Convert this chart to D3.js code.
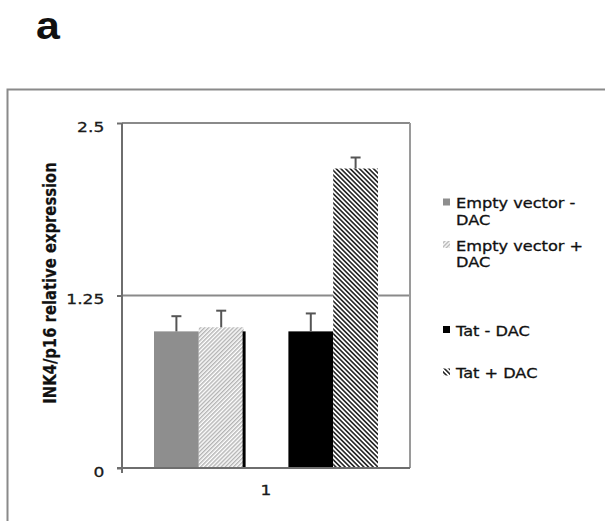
<!DOCTYPE html>
<html>
<head>
<meta charset="utf-8">
<script src="https://cdn.jsdelivr.net/npm/d3@7"></script>
<style>
  body { margin: 0; background: #fff; }
  svg { display: block; font-family: "DejaVu Sans", Verdana, sans-serif; }
</style>
</head>
<body>
<div id="chart"></div>
<script>
// data
const categories = ['1'];
const series = ['Empty vector - DAC', 'Empty vector + DAC', '', 'Tat - DAC', 'Tat + DAC'];
const legendLines = [['Empty vector -', 'DAC'], ['Empty vector +', 'DAC'], [], ['Tat - DAC'], ['Tat + DAC']];
const values = [0.99, 1.02, null, 0.99, 2.17];
const errors = [0.11, 0.12, null, 0.13, 0.08];
const tickValues = [0, 1.25, 2.5];
const tickLabels = ['0', '1.25', '2.5'];

const svgWidth = 605, svgHeight = 521;
const margin = {top: 123, left: 122, right: 195, bottom: 53};
const chartWidth = svgWidth - margin.left - margin.right;   // 288
const chartHeight = svgHeight - margin.top - margin.bottom; // 345
const stretch = 1.18; // the source picture is wider than tall

const svg = d3.select('#chart').append('svg')
  .attr('width', svgWidth)
  .attr('height', svgHeight);

// hatch fills
const defs = svg.append('defs');
function hatch(id, size, angle, color) {
  const p = defs.append('pattern')
    .attr('id', id)
    .attr('patternUnits', 'userSpaceOnUse')
    .attr('width', size).attr('height', size)
    .attr('patternTransform', `rotate(${angle})`);
  p.append('rect').attr('width', size).attr('height', size).attr('fill', '#fff');
  p.append('rect').attr('width', size / 2).attr('height', size).attr('fill', color);
}
hatch('lightHatch', 2.9, 45, '#b4b4b4');
hatch('darkHatch', 3.3, -45, '#2a2a2a');

const fills = ['#8e8e8e', 'url(#lightHatch)', 'none', '#000', 'url(#darkHatch)'];

// outer frame and panel letter
svg.append('rect')
  .attr('x', 7.5).attr('y', 89.5)
  .attr('width', 700).attr('height', 500)
  .attr('fill', 'none').attr('stroke', '#8a8a8a').attr('stroke-width', 2);

svg.append('text')
  .attr('transform', 'translate(36,39) scale(1.1,1)')
  .style('font-family', '"Liberation Sans", Arial, sans-serif')
  .style('font-weight', 'bold')
  .style('font-size', '39px')
  .attr('fill', '#111')
  .text('a');

const chartGroup = svg.append('g')
  .attr('transform', `translate(${margin.left}, ${margin.top})`);

// scales
const yScale = d3.scaleLinear().domain([0, 2.5]).range([chartHeight, 0]);
const x0 = d3.scaleBand().domain(categories).range([0, chartWidth]).paddingInner(0.125).paddingOuter(0.125);
const x1 = d3.scaleBand().domain(series.map((s, i) => i)).range([0, x0.bandwidth()]);

// grid lines and plot border
chartGroup.selectAll('.grid')
  .data(tickValues.filter(v => v > 0))
  .enter().append('line')
  .attr('x1', 0).attr('x2', chartWidth)
  .attr('y1', d => yScale(d)).attr('y2', d => yScale(d))
  .attr('stroke', '#8a8a8a').attr('stroke-width', 2);

chartGroup.append('line')
  .attr('x1', chartWidth).attr('x2', chartWidth)
  .attr('y1', 0).attr('y2', chartHeight)
  .attr('stroke', '#9a9a9a').attr('stroke-width', 2);

// bars
const barGroup = chartGroup.append('g')
  .attr('transform', `translate(${x0(categories[0])},0)`);

const barData = series.map((s, i) => ({i, v: values[i], e: errors[i]})).filter(d => d.v !== null);

barGroup.selectAll('rect.bar')
  .data(barData)
  .enter().append('rect')
  .attr('class', 'bar')
  .attr('x', d => x1(d.i))
  .attr('y', d => yScale(d.v))
  .attr('width', x1.bandwidth())
  .attr('height', d => chartHeight - yScale(d.v))
  .attr('fill', d => fills[d.i]);

// dark edge on the right of the light hatched bar
barGroup.append('rect')
  .attr('x', x1(1) + x1.bandwidth() - 1)
  .attr('y', yScale(values[3]))
  .attr('width', 3)
  .attr('height', chartHeight - yScale(values[3]))
  .attr('fill', '#000');

// error bars (upper only)
const errG = barGroup.selectAll('g.err')
  .data(barData)
  .enter().append('g')
  .attr('stroke', '#555').attr('stroke-width', 2);
errG.append('line')
  .attr('x1', d => x1(d.i) + x1.bandwidth() / 2)
  .attr('x2', d => x1(d.i) + x1.bandwidth() / 2)
  .attr('y1', d => yScale(d.v))
  .attr('y2', d => yScale(d.v + d.e));
errG.append('line')
  .attr('x1', d => x1(d.i) + x1.bandwidth() / 2 - 5)
  .attr('x2', d => x1(d.i) + x1.bandwidth() / 2 + 5)
  .attr('y1', d => yScale(d.v + d.e))
  .attr('y2', d => yScale(d.v + d.e));

// axes
const leftAxis = d3.axisLeft(yScale)
  .tickValues(tickValues)
  .tickFormat((d, i) => tickLabels[i])
  .tickSize(5)
  .tickPadding(10);

const yAxisG = chartGroup.append('g').call(leftAxis);
yAxisG.select('.domain').attr('stroke', '#6e6e6e').attr('stroke-width', 2).attr('d', `M0,0V${chartHeight + 5}`);
yAxisG.selectAll('.tick line').attr('stroke', '#6e6e6e').attr('stroke-width', 2);
yAxisG.selectAll('.tick text')
  .attr('transform', `scale(${stretch},1)`)
  .attr('dy', '0.57em')
  .attr('fill', '#1a1a1a')
  .attr('stroke', '#1a1a1a').attr('stroke-width', 0.3)
  .style('font-size', '14.5px')
  .style('font-family', '"DejaVu Sans", Verdana, sans-serif');

const bottomAxis = d3.axisBottom(x0).tickSize(0).tickPadding(0);
const xAxisG = chartGroup.append('g')
  .attr('transform', `translate(0, ${chartHeight})`)
  .call(bottomAxis);
xAxisG.select('.domain').attr('stroke', '#6e6e6e').attr('stroke-width', 2).attr('d', `M-5,0H${chartWidth}`);
xAxisG.selectAll('.tick text')
  .attr('transform', `translate(0,27) scale(${stretch},1)`)
  .attr('dy', 0)
  .attr('fill', '#1a1a1a')
  .attr('stroke', '#1a1a1a').attr('stroke-width', 0.3)
  .style('font-size', '14.5px')
  .style('font-family', '"DejaVu Sans", Verdana, sans-serif');

// y axis title
svg.append('text')
  .attr('transform', `translate(50, 283) scale(${stretch},1) rotate(-90)`)
  .attr('text-anchor', 'middle')
  .attr('dominant-baseline', 'central')
  .style('font-weight', 'bold')
  .style('font-size', '14.8px')
  .attr('fill', '#111')
  .attr('stroke', '#111').attr('stroke-width', 0.2)
  .text('INK4/p16 relative expression');

// legend
const legendY = d3.scalePoint().domain(series.map((s, i) => i)).range([203, 373]);
const legend = svg.append('g');
series.forEach((s, i) => {
  if (!legendLines[i].length) return;
  const cy = legendY(i);
  legend.append('rect')
    .attr('x', 443).attr('y', cy - 4.5)
    .attr('width', 7).attr('height', 7)
    .attr('fill', fills[i]);
  legendLines[i].forEach((line, j) => {
    legend.append('text')
      .attr('transform', `translate(456, ${cy + 5 + j * 16.8}) scale(${stretch},1)`)
      .style('font-size', '13.7px')
      .attr('fill', '#111')
      .attr('stroke', '#111').attr('stroke-width', 0.3)
      .text(line);
  });
});
</script>
</body>
</html>
